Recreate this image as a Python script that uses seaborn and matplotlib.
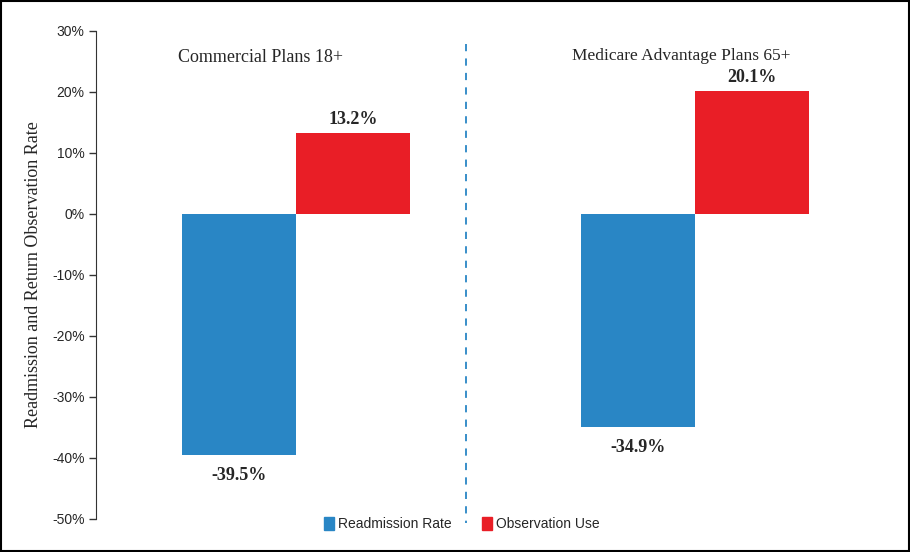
import pandas as pd
import numpy as np
import matplotlib.pyplot as plt
import matplotlib.patches as mpatches
from matplotlib.ticker import PercentFormatter, MultipleLocator
import seaborn as sns

# chart values
plans = ["Commercial Plans 18+", "Medicare Advantage Plans 65+"]
measures = ["Readmission Rate", "Observation Use"]
readmission_rate = [-39.5, -34.9]
observation_use = [13.2, 20.1]
bar_colors = ["#2986C5", "#E91E26"]

df = pd.DataFrame({
    "plan": plans * 2,
    "measure": [measures[0]] * 2 + [measures[1]] * 2,
    "value": readmission_rate + observation_use,
})

sns.set_style("ticks")
plt.rcParams["font.family"] = ["Liberation Sans", "DejaVu Sans"]
plt.rcParams["axes.unicode_minus"] = False

fig = plt.figure(figsize=(9.1, 5.52), dpi=100)
ax = fig.add_axes([0.106, 0.06, 0.877, 0.884])

sns.barplot(data=df, x="plan", y="value", hue="measure", order=plans,
            hue_order=measures, palette=bar_colors, width=0.572,
            saturation=1, edgecolor="none", ax=ax)

ax.set_xlim(-0.5, 1.5)
ax.set_ylim(-50, 30)
ax.yaxis.set_major_locator(MultipleLocator(10))
ax.yaxis.set_major_formatter(PercentFormatter(decimals=0))
ax.tick_params(axis="y", labelsize=10, length=5, width=1, color="#333333")
ax.set_xticks([])
ax.set_xlabel("")
ax.set_ylabel("Readmission and Return Observation Rate", family="Liberation Serif",
              fontsize=13)
ax.yaxis.set_label_coords(-0.068, 0.5)
sns.despine(ax=ax, top=True, right=True, bottom=True)
ax.spines["left"].set_color("#333333")

# value labels: positive bars above, negative bars below
for cont in ax.containers:
    pad = 4 if cont.datavalues[0] > 0 else 9
    ax.bar_label(cont, fmt="%.1f%%", padding=pad, family="Liberation Serif",
                 fontweight="bold", fontsize=13)

# group titles
ax.text(-0.09, 25.6, plans[0], ha="center", va="center",
        family="Liberation Serif", fontsize=13)
ax.text(0.966, 25.9, plans[1], ha="center", va="center",
        family="Liberation Serif", fontsize=12.5)

# divider between plans
ax.plot([0.426, 0.426], [27.8, -50.7], ls=(0, (4, 4)), color="#2986C5",
        lw=1.3, clip_on=False)

handles = [mpatches.Patch(color=c, label=m) for c, m in zip(bar_colors, measures)]
ax.legend(handles=handles, loc="center", bbox_to_anchor=(0.458, -0.01), ncol=2,
          frameon=False, fontsize=10, handlelength=0.7, handleheight=1.1,
          handletextpad=0.3, columnspacing=2.2)

fig.patches.append(mpatches.Rectangle((0.001, 0.001), 0.998, 0.997,
                                      transform=fig.transFigure, fill=False,
                                      edgecolor="black", lw=1.5))

fig.savefig("out.png", dpi=100)
